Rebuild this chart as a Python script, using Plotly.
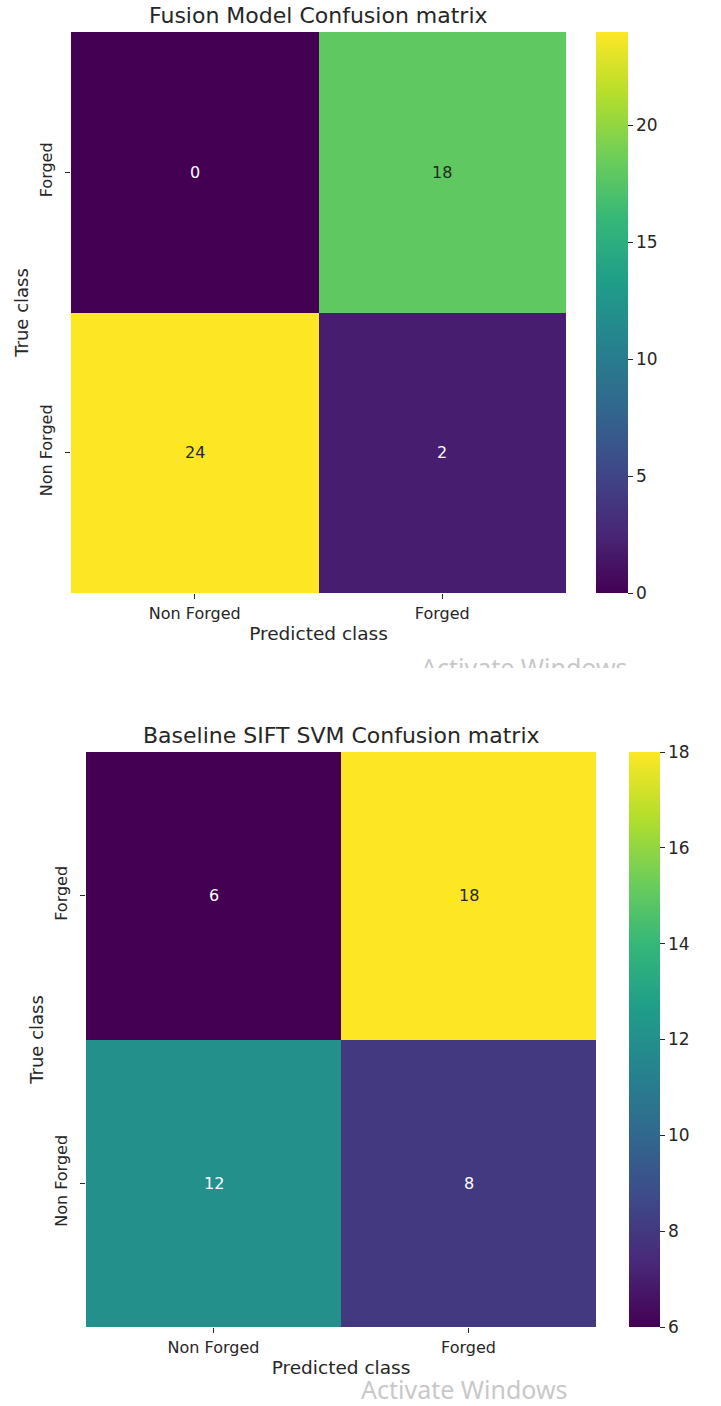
import plotly.graph_objects as go

x_labels = ["Non Forged", "Forged"]
y_labels = ["Forged", "Non Forged"]
fusion_values = [[0, 18], [24, 2]]
baseline_values = [[6, 18], [12, 8]]
fusion_ticks = [0, 5, 10, 15, 20]
baseline_ticks = [6, 8, 10, 12, 14, 16, 18]
titles = ["Fusion Model Confusion matrix", "Baseline SIFT SVM Confusion matrix"]
watermark = "Activate Windows"

W, H = 721, 1406
FONT = "DejaVu Sans"
TXT = "#262626"


def py(p):
    return 1 - p / H


def px(p):
    return p / W


panels = [
    dict(z=fusion_values, ticks=fusion_ticks, zmin=0, zmax=24,
         x0=71, x1=566, y0=32, y1=593, cb0=596, cb1=628, xa="x", ya="y",
         wmx=524, wmy=667, cut=True),
    dict(z=baseline_values, ticks=baseline_ticks, zmin=6, zmax=18,
         x0=86, x1=596, y0=752, y1=1327, cb0=629, cb1=660, xa="x2", ya="y2",
         wmx=464, wmy=1389, cut=False),
]

fig = go.Figure()
annotations = []
for i, p in enumerate(panels):
    fig.add_trace(go.Heatmap(
        z=p["z"], x=x_labels, y=y_labels, colorscale="Viridis",
        zmin=p["zmin"], zmax=p["zmax"], xaxis=p["xa"], yaxis=p["ya"],
        xgap=0, ygap=0, hoverinfo="skip",
        colorbar=dict(
            x=px(p["cb0"]), xanchor="left", xref="paper",
            y=py(p["y0"]), yanchor="top", len=(p["y1"] - p["y0"]) / H, lenmode="fraction",
            thickness=p["cb1"] - p["cb0"], thicknessmode="pixels", outlinewidth=0,
            tickvals=p["ticks"], ticks="outside", ticklen=5, tickcolor=TXT,
            tickfont=dict(family=FONT, size=17, color=TXT), ypad=0, xpad=0,
        ),
    ))
    zmin, zmax = p["zmin"], p["zmax"]
    for r, row in enumerate(p["z"]):
        for c, v in enumerate(row):
            frac = (v - zmin) / (zmax - zmin)
            col = "white" if frac < 0.6 else TXT
            annotations.append(dict(
                x=x_labels[c], y=y_labels[r], xref=p["xa"], yref=p["ya"],
                text=str(v), showarrow=False,
                font=dict(family=FONT, size=16, color=col)))
    annotations.append(dict(
        x=(px(p["x0"]) + px(p["x1"])) / 2, y=py(p["y0"] - 2), xref="paper", yref="paper",
        text=titles[i], showarrow=False, xanchor="center", yanchor="bottom",
        font=dict(family=FONT, size=22, color=TXT)))
    annotations.append(dict(
        x=px(p["wmx"]), y=py(p["wmy"]), xref="paper", yref="paper",
        text=watermark, showarrow=False, xanchor="center", yanchor="middle",
        font=dict(family="Noto Sans", size=25, color="#c8c8c8")))
    if p["cut"]:
        # the screenshot is cropped through the middle of this watermark
        annotations.append(dict(
            x=px(p["wmx"]), y=py(p["wmy"] + 1), xref="paper", yref="paper",
            text=" ", showarrow=False, xanchor="center", yanchor="top",
            width=270, height=34, bgcolor="white", borderwidth=0))

axis_common = dict(ticks="outside", ticklen=5, tickcolor=TXT, showgrid=False, zeroline=False,
                   showline=False, tickfont=dict(family=FONT, size=16, color=TXT))

layout = dict(width=W, height=H, margin=dict(l=0, r=0, t=0, b=0),
              paper_bgcolor="white", plot_bgcolor="white", showlegend=False,
              annotations=annotations)
for i, p in enumerate(panels):
    sx = "" if i == 0 else "2"
    layout["xaxis" + sx] = dict(
        axis_common, domain=[px(p["x0"]), px(p["x1"])], anchor="y" + sx,
        ticklabelstandoff=1,
        title=dict(text="Predicted class", font=dict(family=FONT, size=18.5, color=TXT), standoff=4))
    layout["yaxis" + sx] = dict(
        axis_common, domain=[py(p["y1"]), py(p["y0"])], anchor="x" + sx, autorange="reversed",
        tickangle=-90, ticklabelstandoff=7,
        title=dict(text="True class", font=dict(family=FONT, size=18, color=TXT), standoff=3))

fig.update_layout(**layout)
fig.write_html("out.html", config={"displayModeBar": False},
               post_script="document.body.style.margin='0';")
